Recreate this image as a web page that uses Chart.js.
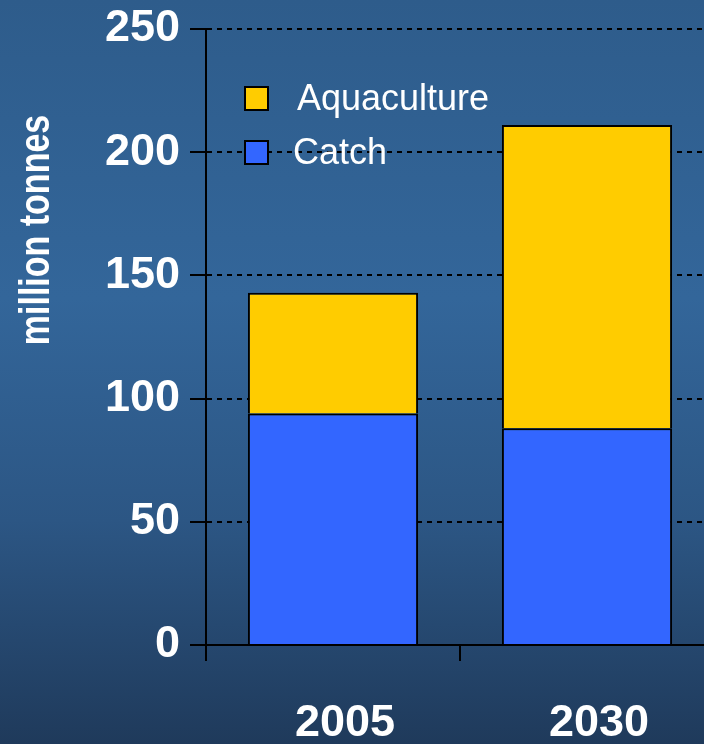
<!DOCTYPE html>
<html>
<head>
<meta charset="utf-8">
<script src="https://cdn.jsdelivr.net/npm/chart.js@4/dist/chart.umd.min.js"></script>
<style>
  html, body { margin: 0; padding: 0; width: 704px; height: 744px; overflow: hidden; }
  body { background: linear-gradient(to bottom, #2e5c8b 0%, #33669a 40%, #2c5684 70%, #1f3a5b 100%); }
  #wrap { position: absolute; left: 0; top: 0; width: 720px; height: 744px; }
</style>
</head>
<body>
<div id="wrap"><canvas id="c" width="720" height="744"></canvas></div>
<script>
const categories = ['2005', '2030'];
const catchValues = [94, 88];
const aquacultureValues = [49, 123];
const yTicks = [0, 50, 100, 150, 200, 250];
const yTitle = 'million tonnes';
const seriesNames = ['Catch', 'Aquaculture'];
const seriesColors = ['#3366FF', '#FFCC00'];

const FONT = '"Liberation Sans", Arial, Helvetica, sans-serif';

const overlay = {
  id: 'overlay',
  afterDraw(chart) {
    const ctx = chart.ctx;
    ctx.save();
    // y axis title
    ctx.fillStyle = '#ffffff';
    ctx.font = 'bold 34px ' + FONT;
    ctx.textAlign = 'center';
    ctx.textBaseline = 'middle';
    ctx.translate(37, 230);
    ctx.rotate(-Math.PI / 2);
    ctx.scale(1, 1.25);
    ctx.fillText(yTitle, 0, 0);
    ctx.restore();

    // legend (reverse order: Aquaculture on top)
    ctx.save();
    const ds = chart.data.datasets.slice().reverse();
    ds.forEach((d, i) => {
      const bx = 245, by = 87 + i * 54, s = 23;
      ctx.fillStyle = d.backgroundColor;
      ctx.fillRect(bx, by, s, s);
      ctx.lineWidth = 2;
      ctx.strokeStyle = '#000000';
      ctx.strokeRect(bx, by, s, s);
      ctx.fillStyle = '#ffffff';
      ctx.font = '36px ' + FONT;
      ctx.textAlign = 'left';
      ctx.textBaseline = 'middle';
      ctx.fillText(d.label, i === 0 ? 297 : 293, by + s / 2 + 2);
    });
    ctx.restore();
  }
};

new Chart(document.getElementById('c'), {
  type: 'bar',
  data: {
    labels: categories,
    datasets: [
      { label: seriesNames[0], data: catchValues, backgroundColor: seriesColors[0], borderColor: '#000000', borderWidth: 2, borderSkipped: 'start' },
      { label: seriesNames[1], data: aquacultureValues, backgroundColor: seriesColors[1], borderColor: '#000000', borderWidth: 2, borderSkipped: 'start' }
    ]
  },
  options: {
    responsive: false,
    animation: false,
    layout: { padding: { top: 29, right: 6, left: 0, bottom: 0 } },
    plugins: { legend: { display: false }, tooltip: { enabled: false } },
    datasets: { bar: { categoryPercentage: 1.0, barPercentage: 0.67 } },
    scales: {
      x: {
        stacked: true,
        offset: true,
        grid: { display: true, drawOnChartArea: false, offset: true, color: '#000000', lineWidth: 2, tickLength: 16, tickColor: '#000000', tickWidth: 2 },
        border: { display: true, color: '#000000', width: 2 },
        ticks: { color: '#ffffff', font: { family: FONT, size: 45, weight: 'bold' }, padding: 36, labelOffset: 12, maxRotation: 0 },
        afterFit(scale) { scale.height = 99; }
      },
      y: {
        stacked: true,
        min: 0,
        max: 250,
        afterBuildTicks(scale) { scale.ticks = yTicks.map(v => ({ value: v })); },
        grid: { color: '#000000', lineWidth: 2, tickLength: 16, tickColor: '#000000', tickWidth: 2 },
        border: { display: true, color: '#000000', width: 2, dash: [5, 5] },
        ticks: { color: '#ffffff', font: { family: FONT, size: 45, weight: 'bold', lineHeight: 0.8 }, padding: 10 },
        afterFit(scale) { scale.width = 206; }
      }
    }
  },
  plugins: [overlay]
});
</script>
</body>
</html>
